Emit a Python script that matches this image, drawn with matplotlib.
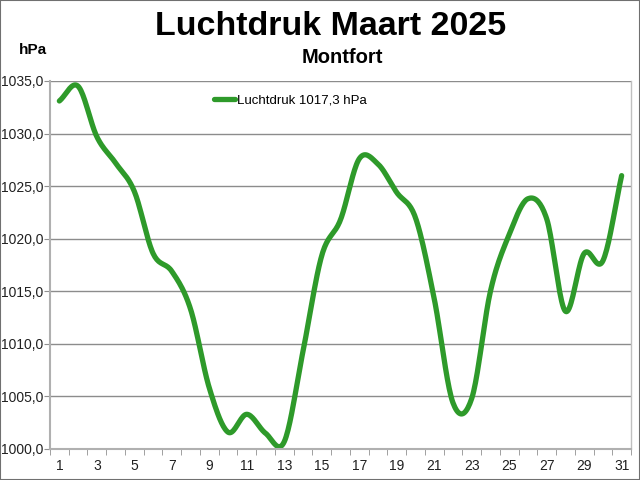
import numpy as np
import matplotlib
matplotlib.use("Agg")
import matplotlib.pyplot as plt
from matplotlib.patches import Rectangle

days = list(range(1, 32))
pressure = [1033.1, 1034.5, 1029.7, 1027.2, 1024.5, 1018.6, 1016.9, 1013.3, 1005.8, 1001.6,
            1003.3, 1001.5, 1000.7, 1009.3, 1018.4, 1021.8, 1027.6, 1027.1, 1024.4, 1022.0,
            1014.3, 1004.4, 1004.8, 1015.0, 1020.4, 1023.8, 1021.9, 1013.1, 1018.6, 1017.9,
            1026.0]
title = "Luchtdruk Maart 2025"
subtitle = "Montfort"
unit = "hPa"
legend_label = "Luchtdruk 1017,3 hPa"
yticks = [1000, 1005, 1010, 1015, 1020, 1025, 1030, 1035]
ytick_labels = ["1000,0", "1005,0", "1010,0", "1015,0", "1020,0", "1025,0", "1030,0", "1035,0"]
xtick_days = list(range(1, 32, 2))

plt.rcParams['font.family'] = ['Liberation Sans', 'DejaVu Sans']


def smooth(xs, ys, n=20):
    # Catmull-Rom style smoothing (drawing style similar to spreadsheet smoothed line)
    xs = np.asarray(xs, float)
    ys = np.asarray(ys, float)
    px = np.concatenate([[2 * xs[0] - xs[1]], xs, [2 * xs[-1] - xs[-2]]])
    py = np.concatenate([[2 * ys[0] - ys[1]], ys, [2 * ys[-1] - ys[-2]]])
    outx, outy = [], []
    t = np.linspace(0, 1, n, endpoint=False)
    for i in range(1, len(px) - 2):
        p0, p1, p2, p3 = (np.array([px[j], py[j]]) for j in (i - 1, i, i + 1, i + 2))
        c1 = p1 + (p2 - p0) / 6
        c2 = p2 - (p3 - p1) / 6
        b = ((1 - t) ** 3)[:, None] * p1 + (3 * (1 - t) ** 2 * t)[:, None] * c1 + \
            (3 * (1 - t) * t ** 2)[:, None] * c2 + (t ** 3)[:, None] * p2
        outx.extend(b[:, 0]); outy.extend(b[:, 1])
    outx.append(xs[-1]); outy.append(ys[-1])
    return np.array(outx), np.array(outy)


fig = plt.figure(figsize=(6.4, 4.8), dpi=100)
fig.patches.append(Rectangle((0, 0), 1, 1, transform=fig.transFigure, fill=False,
                             edgecolor='#707070', linewidth=1.5))
ax = fig.add_axes([50 / 640, 1 - 449 / 480, (631 - 50) / 640, (449 - 81) / 480])

sx, sy = smooth(days, pressure)
ax.plot(sx, sy, color='#2E9A2A', linewidth=3.8, solid_capstyle='round',
        label=legend_label, clip_on=False)

ax.set_xlim(0.5, 31.5)
ax.set_ylim(1000, 1035)
ax.set_yticks(yticks)
ax.set_yticklabels(ytick_labels)
ax.set_xticks(xtick_days)
ax.set_xticklabels([str(d) for d in xtick_days])
ax.set_xticks(np.arange(0.5, 32, 1), minor=True)
ax.tick_params(axis='x', which='major', length=0, pad=7, labelsize=10, labelcolor='#202020')
ax.tick_params(axis='x', which='minor', length=4, color='#909090', direction='out')
ax.tick_params(axis='y', length=4, color='#909090', labelsize=10, labelcolor='#202020', pad=1)
ax.grid(axis='y', color='#8C8C8C', linewidth=1.0)
ax.set_axisbelow(True)
for s in ['left', 'bottom']:
    ax.spines[s].set_color('#B0B0B0')
    ax.spines[s].set_linewidth(1.5)
ax.spines['right'].set_color('#C0C0C0')
ax.spines['right'].set_linewidth(1.0)
ax.spines['top'].set_visible(False)

fig.text(0.516, 0.945, title, ha='center', va='center', fontsize=24.5, fontweight='bold')
fig.text(0.535, 0.88, subtitle, ha='center', va='center', fontsize=14.5, fontweight='bold')
fig.text(0.052, 0.895, unit, ha='center', va='center', fontsize=11, fontweight='bold')

ax.legend(loc='upper left', bbox_to_anchor=(0.262, 0.995), frameon=False, fontsize=9.5,
          handlelength=1.6, handletextpad=0.1)

fig.savefig("out.png", dpi=100)
